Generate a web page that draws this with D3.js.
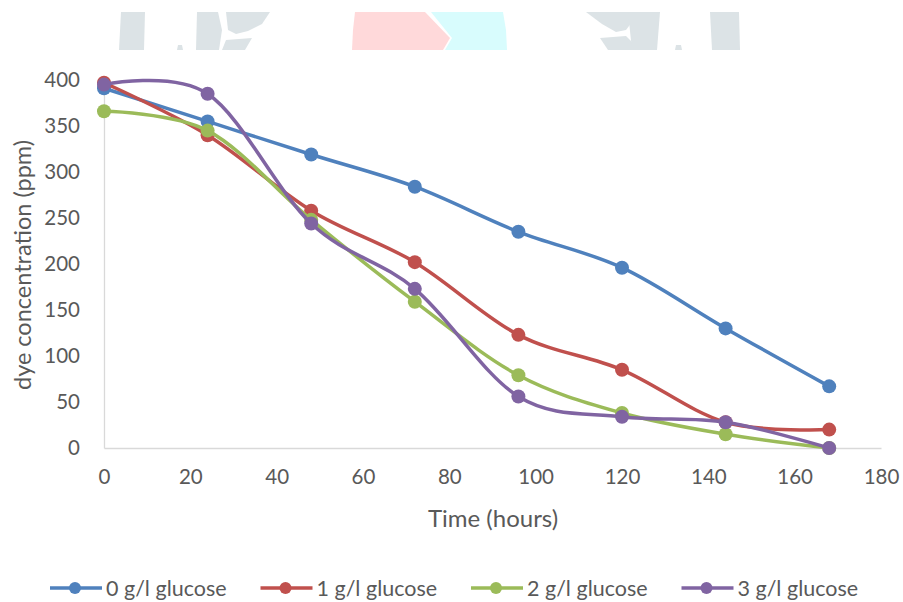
<!DOCTYPE html>
<html>
<head>
<meta charset="utf-8">
<script src="https://cdn.jsdelivr.net/npm/d3@7/dist/d3.min.js"></script>
<style>
  html, body { margin: 0; padding: 0; background: #ffffff; }
  svg { display: block; }
  text { font-family: Lato, "Liberation Sans", sans-serif; fill: #595959; }
</style>
</head>
<body>
<svg id="chart" width="903" height="602"></svg>
<script>
// Sampling times (hours)
const hours = [0, 24, 48, 72, 96, 120, 144, 168];

// Dye concentration (ppm) for each glucose dose
const glucose0 = [391, 355, 319, 284, 235, 196, 130, 67];
const glucose1 = [397, 340, 258, 202, 123, 85, 28, 20];
const glucose2 = [366, 345, 248, 159, 79, 38, 15, 0];
const glucose3 = [395, 385, 244, 173, 56, 34, 28, 0];

const seriesNames = ["0 g/l glucose", "1 g/l glucose", "2 g/l glucose", "3 g/l glucose"];
const seriesColors = ["#4f81bd", "#c0504d", "#9bbb59", "#8064a2"];
const seriesValues = [glucose0, glucose1, glucose2, glucose3];

const xTicks = [0, 20, 40, 60, 80, 100, 120, 140, 160, 180];
const yTicks = [0, 50, 100, 150, 200, 250, 300, 350, 400];

const svg = d3.select("#chart");

// faint banner artwork along the top edge
const deco = svg.append("g").attr("class", "banner");
const grey = "#dce3e6";
[
  [[121,12],[145,12],[144,50],[119,50]],
  [[197,12],[218,12],[222,30],[219,50],[196,50]],
  [[226,12],[270,12],[262,24],[248,31],[236,34],[228,30]],
  [[226,40],[252,38],[245,50],[222,50]],
  [[178,45],[182,45],[183,50],[177,50]],
  [[586,12],[630,12],[632,22],[626,30],[616,32],[602,24]],
  [[600,38],[626,36],[634,44],[633,50],[608,50]],
  [[628,12],[660,12],[657,50],[632,50]],
  [[676,45],[681,45],[682,50],[675,50]],
  [[710,12],[739,12],[740,50],[712,50]]
].forEach(p => deco.append("polygon").attr("points", p.join(" ")).attr("fill", grey));
deco.append("polygon")
  .attr("points", [[355,12],[425,12],[450,38],[443,50],[352,50],[353,30]].join(" "))
  .attr("fill", "#ffd9da");
deco.append("polygon")
  .attr("points", [[431,12],[503,12],[506,30],[507,50],[445,50],[452,38]].join(" "))
  .attr("fill", "#d8fcfd");

const x = d3.scaleLinear().domain([0, 180]).range([104, 881]);
const y = d3.scaleLinear().domain([0, 400]).range([448, 80]);

// axes
const xAxis = svg.append("g")
  .attr("transform", `translate(0,${y(0)})`)
  .call(d3.axisBottom(x).tickValues(xTicks).tickSize(0).tickPadding(21));
xAxis.select(".domain").attr("stroke", "#d9d9d9").attr("stroke-width", 1.3);
xAxis.selectAll("text").style("font-size", "20.5px").attr("fill", "#595959");

const yAxis = svg.append("g")
  .attr("transform", `translate(${x(0)},0)`)
  .call(d3.axisLeft(y).tickValues(yTicks).tickSize(0).tickPadding(24));
yAxis.select(".domain").attr("stroke", "#d9d9d9").attr("stroke-width", 1.3);
yAxis.selectAll("text").style("font-size", "20.5px").attr("fill", "#595959");

// axis titles
svg.append("text")
  .attr("x", 493).attr("y", 527)
  .attr("text-anchor", "middle")
  .style("font-size", "24px")
  .text("Time (hours)");

svg.append("text")
  .attr("transform", "translate(31,265) rotate(-90)")
  .attr("text-anchor", "middle")
  .style("font-size", "23.5px")
  .text("dye concentration (ppm)");

// smoothed series lines with circular markers
const line = d3.line()
  .x(d => x(d[0]))
  .y(d => y(d[1]))
  .curve(d3.curveCardinal.tension(0));

seriesValues.forEach((vals, i) => {
  const pts = hours.map((h, j) => [h, vals[j]]);
  const g = svg.append("g").attr("class", "series");
  g.append("path")
    .datum(pts)
    .attr("d", line)
    .attr("fill", "none")
    .attr("stroke", seriesColors[i])
    .attr("stroke-width", 3.5)
    .attr("stroke-linecap", "round");
  g.selectAll("circle")
    .data(pts)
    .join("circle")
    .attr("cx", d => x(d[0]))
    .attr("cy", d => y(d[1]))
    .attr("r", 7)
    .attr("fill", seriesColors[i]);
});

// legend
const legend = svg.append("g").attr("transform", "translate(50,588)");
seriesNames.forEach((name, i) => {
  const item = legend.append("g").attr("transform", `translate(${i * 210.5},0)`);
  item.append("line")
    .attr("x1", 0).attr("x2", 52).attr("y1", 0).attr("y2", 0)
    .attr("stroke", seriesColors[i]).attr("stroke-width", 3.5);
  item.append("circle")
    .attr("cx", 25).attr("cy", 0).attr("r", 6)
    .attr("fill", seriesColors[i]);
  item.append("text")
    .attr("x", 56).attr("y", 0).attr("dy", "0.35em")
    .style("font-size", "21.5px")
    .text(name);
});
</script>
</body>
</html>
